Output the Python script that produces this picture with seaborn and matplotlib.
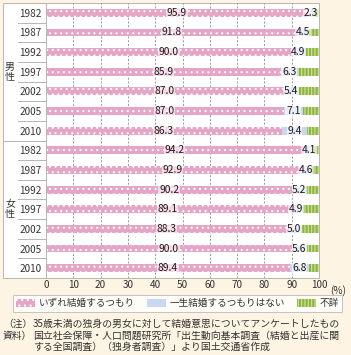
import pandas as pd
import matplotlib
matplotlib.use("Agg")
import matplotlib.pyplot as plt
import matplotlib.patches as mpatches
import seaborn as sns

plt.rcParams['font.family'] = ['Noto Sans CJK JP', 'DejaVu Sans']
plt.rcParams['hatch.linewidth'] = 0.8

# Data
years = ["1982", "1987", "1992", "1997", "2002", "2005", "2010"]
male_plan = [95.9, 91.8, 90.0, 85.9, 87.0, 87.0, 86.3]
male_never = [2.3, 4.5, 4.9, 6.3, 5.4, 7.1, 9.4]
female_plan = [94.2, 92.9, 90.2, 89.1, 88.3, 90.0, 89.4]
female_never = [4.1, 4.6, 5.2, 4.9, 5.0, 5.6, 6.8]
groups = ["男性", "女性"]
series_names = ["いずれ結婚するつもり", "一生結婚するつもりはない", "不詳"]

df = pd.DataFrame({
    "row": [f"{g}{y}" for g in groups for y in years],
    "year": years * 2,
    "plan": male_plan + female_plan,
    "never": male_never + female_never,
})
df["unknown"] = 100 - df["plan"] - df["never"]
df["cum_never"] = df["plan"] + df["never"]
df["total"] = df["cum_never"] + df["unknown"]
order = list(df["row"])

BG = "#FDF4E3"
PINK = "#E4A5C6"
BLUE = "#C9D8F0"
GREEN = "#8DB63F"
TXT = "#231815"
GREY = "#333333"

fig = plt.figure(figsize=(3.51, 3.55), dpi=100, facecolor=BG)
W, H = 351, 355
ax = fig.add_axes([46 / W, 1 - 278 / H, 273 / W, 275 / H])

# white panel incl. label area
fig.patches.append(mpatches.Rectangle((3 / W, 1 - 278 / H), 316 / W, 275 / H,
                                      transform=fig.transFigure, facecolor="white",
                                      edgecolor="#B5B5B5", lw=0.7, zorder=-1))
ax.set_facecolor("none")

sns.barplot(data=df, y="row", x="total", order=order, orient="h", color=GREEN,
            width=0.4, saturation=1, linewidth=0, ax=ax)
for b in ax.containers[-1]:
    b.set_hatch("|||||")
    b.set_edgecolor("#D2E4A6")
    b.set_linewidth(0)

sns.barplot(data=df, y="row", x="cum_never", order=order, orient="h", color=BLUE,
            width=0.4, saturation=1, linewidth=0, ax=ax)

sns.barplot(data=df, y="row", x="plan", order=order, orient="h", color=PINK,
            width=0.4, saturation=1, linewidth=0, ax=ax)
for b in ax.containers[-1]:
    b.set_hatch("...")
    b.set_edgecolor("white")
    b.set_linewidth(0)

# value labels
box = dict(boxstyle="square,pad=0.06", fc="white", ec="none", alpha=0.6)
for i, r in df.iterrows():
    ax.text(r["plan"] / 2, i, f"{r['plan']:.1f}", ha="center", va="center",
            fontsize=7.4, color=TXT, bbox=box, zorder=5)
    ax.text(r["plan"] + r["never"] / 2, i, f"{r['never']:.1f}", ha="center",
            va="center", fontsize=7.4, color=TXT, bbox=box, zorder=5)

ax.set_xlim(0, 100)
ax.set_ylim(len(order) - 0.5, -0.5)
ax.set_xticks(range(0, 101, 10))
ax.set_xticklabels([str(v) for v in range(0, 101, 10)], fontsize=7.2, color=GREY)
ax.set_yticks(range(len(order)))
ax.set_yticklabels(df["year"], fontsize=7.2, color=GREY)
ax.tick_params(axis="both", length=0)
ax.tick_params(axis="x", pad=1.5)
ax.tick_params(axis="y", pad=3)
ax.set_xlabel("")
ax.set_ylabel("")
for v in range(10, 100, 10):
    ax.axvline(v, color="#8C8C8C", lw=0.6, ls=(0, (2.5, 2)), zorder=0)
for s in ["top", "right", "bottom"]:
    ax.spines[s].set_visible(False)
ax.spines["left"].set_color("#B5B5B5")
ax.spines["left"].set_linewidth(0.7)

ax.text(106.8, -0.026, "(%)", transform=ax.get_xaxis_transform(), ha="center",
        va="top", fontsize=7.2, color=GREY, clip_on=False)

# row separators in label area
ytr = ax.get_yaxis_transform()
for k in range(len(order) - 1):
    x0 = -43 / 273 if k == 6 else -28 / 273
    ax.plot([x0, 0], [k + 0.5, k + 0.5], transform=ytr, color="#B5B5B5", lw=0.7,
            clip_on=False)
for j, g in enumerate(groups):
    ax.text(-36 / 273, 3 + 7 * j, "\n".join(g), transform=ytr, ha="center",
            va="center", fontsize=7.2, color=GREY, linespacing=0.95)

# legend
handles = [
    mpatches.Patch(facecolor=PINK, edgecolor="white", hatch="...", lw=0),
    mpatches.Patch(facecolor=BLUE, edgecolor=BLUE, lw=0),
    mpatches.Patch(facecolor=GREEN, edgecolor="#D2E4A6", hatch="|||||", lw=0),
]
leg = fig.legend(handles, series_names, loc="center", bbox_to_anchor=(177.5 / W, 1 - 303.5 / H),
                 ncol=3, fontsize=6.9, frameon=True, fancybox=False, handlelength=2.0,
                 handleheight=0.8, handletextpad=0.4, columnspacing=1.2, borderpad=0.35,
                 labelcolor=GREY)
leg.get_frame().set_edgecolor("#B5B5B5")
leg.get_frame().set_linewidth(0.7)
leg.get_frame().set_facecolor("white")

# notes
notes = [
    ("（注）", "35歳未満の独身の男女に対して結婚意思についてアンケートしたもの"),
    ("資料）", "国立社会保障・人口問題研究所「出生動向基本調査（結婚と出産に関"),
    ("", "する全国調査）（独身者調査）」より国土交通省作成"),
]
for k, (head, body) in enumerate(notes):
    yy = 1 - (324 + 11.5 * k) / H
    if head:
        fig.text(3 / W, yy, head, fontsize=7.0, color=GREY, va="center")
    fig.text(33 / W, yy, body, fontsize=7.1, color=GREY, va="center")

fig.savefig("out.png", dpi=100, facecolor=BG)
